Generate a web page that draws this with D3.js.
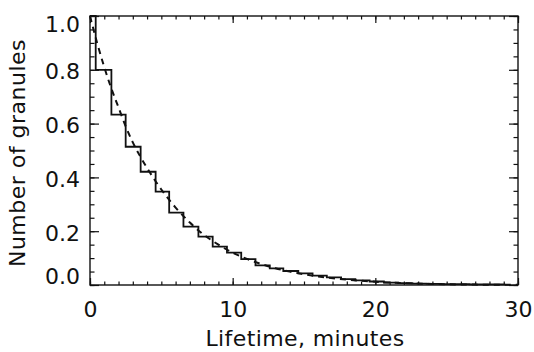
<!DOCTYPE html>
<html>
<head>
<meta charset="utf-8">
<script src="https://cdn.jsdelivr.net/npm/d3@7"></script>
<style>
  html, body { margin: 0; padding: 0; background: #fff; }
  svg { display: block; }
  text { font-family: "DejaVu Sans", sans-serif; fill: #111; }
</style>
</head>
<body>
<svg id="chart" width="534" height="352"></svg>
<script>
// ---- data ----
const binEdges = [0, 0.4, 1.5, 2.5, 3.55, 4.6, 5.55, 6.55, 7.6, 8.6, 9.6, 10.6, 11.6, 12.6, 13.55,
  14.6, 15.6, 16.6, 17.6, 18.6, 19.6, 20.6, 21.6, 22.6, 23.6, 24.6, 25.6, 26.6, 27.6, 28.6, 29.1];
const binValues = [1.0, 0.80, 0.633, 0.514, 0.421, 0.347, 0.269, 0.217, 0.18, 0.143, 0.12, 0.096,
  0.073, 0.062, 0.052, 0.043, 0.035, 0.028, 0.022, 0.017, 0.013, 0.009, 0.007, 0.005, 0.004,
  0.003, 0.003, 0.002, 0.002, 0.002];
const fitTimes = [0, 0.5, 1, 1.5, 2, 2.5, 3, 3.5, 4, 5, 6, 7, 8, 9, 10, 11, 12, 13, 14, 15, 16,
  18, 20, 22, 24, 26, 28, 30];
const fitValues = [1.0, 0.90, 0.81, 0.73, 0.66, 0.59, 0.53, 0.48, 0.435, 0.355, 0.288, 0.232, 0.186,
  0.15, 0.12, 0.097, 0.078, 0.062, 0.05, 0.04, 0.032, 0.02, 0.012, 0.007, 0.004, 0.002, 0.001, 0.0005];
const xTickLabels = [0, 10, 20, 30];
const yTickLabels = [0.0, 0.2, 0.4, 0.6, 0.8, 1.0];
const xTitle = "Lifetime, minutes";
const yTitle = "Number of granules";

// ---- layout ----
const svg = d3.select("#chart");
const L = 90, R = 518, T = 16, B = 285;
const x = d3.scaleLinear().domain([0, 30]).range([L, R]);
const y = d3.scaleLinear().domain([0, 1]).range([B, T]);
const FS = 22;

// frame
svg.append("rect").attr("x", L).attr("y", T).attr("width", R - L).attr("height", B - T)
  .attr("fill", "none").attr("stroke", "#111").attr("stroke-width", 1.4);

function styleAxis(g) {
  g.select(".domain").remove();
  g.selectAll("line").attr("stroke", "#111").attr("stroke-width", 1.2);
}

// minor ticks
const xMinor = x.ticks(30);
const yMinor = y.ticks(20);
svg.append("g").attr("transform", `translate(0,${B})`)
  .call(d3.axisBottom(x).tickValues(xMinor).tickSize(-3.5).tickFormat("")).call(styleAxis);
svg.append("g").attr("transform", `translate(0,${T})`)
  .call(d3.axisTop(x).tickValues(xMinor).tickSize(-3.5).tickFormat("")).call(styleAxis);
svg.append("g").attr("transform", `translate(${L},0)`)
  .call(d3.axisLeft(y).tickValues(yMinor).tickSize(-4.5).tickFormat("")).call(styleAxis);
svg.append("g").attr("transform", `translate(${R},0)`)
  .call(d3.axisRight(y).tickValues(yMinor).tickSize(-4.5).tickFormat("")).call(styleAxis);

// major ticks + labels
const xAx = svg.append("g").attr("transform", `translate(0,${B})`)
  .call(d3.axisBottom(x).tickValues(xTickLabels).tickSizeInner(-7).tickSizeOuter(0)
    .tickPadding(16).tickFormat(d3.format("d")))
  .call(styleAxis);
xAx.selectAll("text").attr("font-size", FS).attr("fill", "#111")
  .style("font-family", "DejaVu Sans, sans-serif");
svg.append("g").attr("transform", `translate(0,${T})`)
  .call(d3.axisTop(x).tickValues(xTickLabels).tickSize(-7).tickFormat("")).call(styleAxis);

const yAx = svg.append("g").attr("transform", `translate(${L},0)`)
  .call(d3.axisLeft(y).tickValues(yTickLabels).tickSizeInner(-9).tickSizeOuter(0)
    .tickPadding(10).tickFormat(d3.format(".1f")))
  .call(styleAxis);
yAx.selectAll("text").attr("font-size", FS).attr("fill", "#111")
  .style("font-family", "DejaVu Sans, sans-serif")
  .attr("dy", d => d === 1 ? "0.72em" : (d === 0 ? "-0.05em" : "0.4em"));
svg.append("g").attr("transform", `translate(${R},0)`)
  .call(d3.axisRight(y).tickValues(yTickLabels).tickSize(-9).tickFormat("")).call(styleAxis);

// axis titles
svg.append("text").attr("x", (L + R) / 2 + 1).attr("y", 346).attr("text-anchor", "middle")
  .attr("font-size", FS).attr("letter-spacing", 0.4).text(xTitle);
svg.append("text").attr("transform", "translate(25,153) rotate(-90)").attr("text-anchor", "middle")
  .attr("font-size", FS).attr("letter-spacing", 0.5).text(yTitle);

// histogram (step line)
const histPts = binValues.map((v, i) => [binEdges[i], v]);
histPts.push([binEdges[binEdges.length - 1], binValues[binValues.length - 1]]);
const stepLine = d3.line().x(d => x(d[0])).y(d => y(d[1])).curve(d3.curveStepAfter);
svg.append("path").datum(histPts).attr("d", stepLine)
  .attr("fill", "none").attr("stroke", "#111").attr("stroke-width", 1.8);

// dashed fitted curve
const fitLine = d3.line().x((d, i) => x(fitTimes[i])).y(d => y(d)).curve(d3.curveMonotoneX);
svg.append("path").datum(fitValues).attr("d", fitLine)
  .attr("fill", "none").attr("stroke", "#111").attr("stroke-width", 2)
  .attr("stroke-dasharray", "6,5");
</script>
</body>
</html>
